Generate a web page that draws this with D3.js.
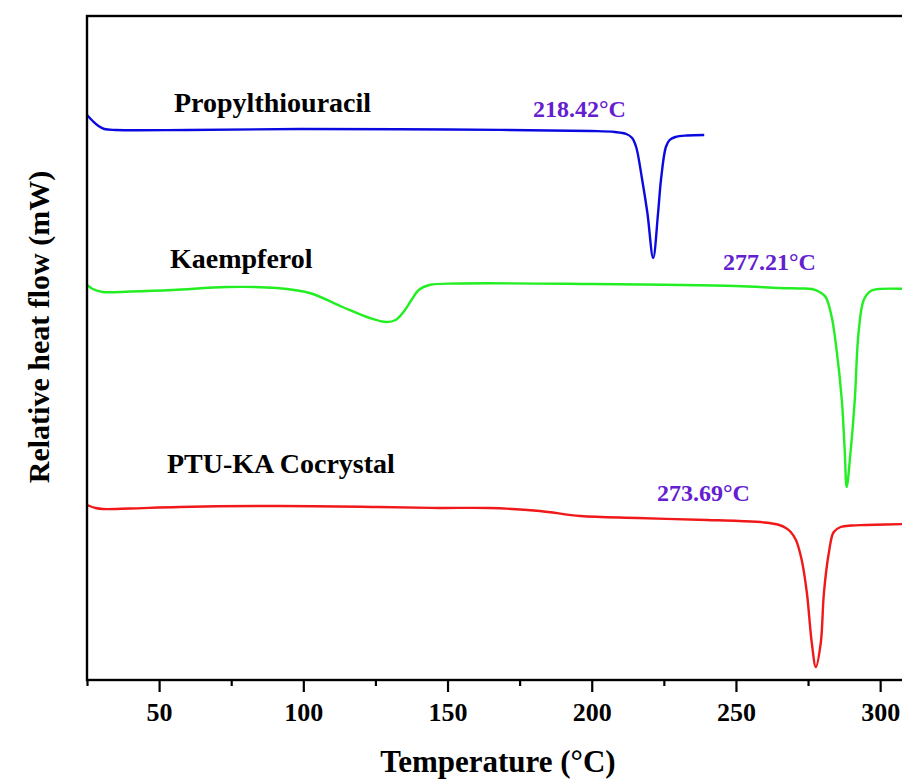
<!DOCTYPE html>
<html>
<head>
<meta charset="utf-8">
<script src="https://cdn.jsdelivr.net/npm/d3@7"></script>
<style>
  html, body { margin: 0; padding: 0; background: #fff; }
  svg { display: block; }
  text { font-family: "Liberation Serif", "Times New Roman", serif; font-weight: bold; }
</style>
</head>
<body>
<svg id="chart" width="902" height="781"></svg>
<script>
// ---- Data (temperature °C, relative heat flow in arbitrary units) ----
const ptuT = [25,27,29,31,35,60,100,150,200,208,212,214,215.4,217.5,219.3,221.3,223,224,225.7,227,229,233,239];
const ptuV = [56.5,55.9,55.4,55.1,55.0,55.0,55.1,55.05,54.9,54.8,54.6,54.2,53.3,50.0,46.7,42.2,46.7,50.0,53.3,54.0,54.3,54.45,54.5];

const kaeT = [25,27,30.5,40,54.8,73.5,90.8,102.2,113.6,123,128.8,132,135,137.5,140,143.7,154,200,250,265,272,276.3,279,281.1,283.2,284.9,286.7,287.7,288.4,289.8,291.2,292.5,294.3,296.7,299.5,310];
const kaeV = [39.5,39.1,38.8,38.85,39.0,39.3,39.2,38.7,37.3,36.2,35.8,36.0,36.9,38.0,39.0,39.5,39.65,39.6,39.4,39.2,39.15,39.1,38.8,38.3,36.3,33.0,28.0,23.0,19.3,23.0,28.0,34.7,38.0,38.9,39.1,39.1];

const cocT = [25,28,30.5,40,57,92,126,147,164.5,182,196,216,240,251,260,265,267.3,269,270.8,272.8,274.6,276.3,277.7,279.4,280.5,282.2,283.9,286.3,290,295,310];
const cocV = [17.5,17.2,17.1,17.15,17.3,17.4,17.3,17.2,17.2,16.9,16.4,16.2,16.0,15.9,15.75,15.5,15.2,14.8,14.0,12.0,8.7,3.7,1.3,3.7,8.7,12.7,14.8,15.3,15.45,15.5,15.6];

const seriesNames = ["Propylthiouracil", "Kaempferol", "PTU-KA Cocrystal"];
const peakLabels = ["218.42°C", "277.21°C", "273.69°C"];
const majorTicks = [50, 100, 150, 200, 250, 300];
const minorTicks = [25, 75, 125, 175, 225, 275];

// ---- Layout ----
const svg = d3.select("#chart");
const mLeft = 87, mRight = 909, mTop = 16, mBottom = 680;

const x = d3.scaleLinear().domain([25, 310]).range([mLeft, mRight]);
const y = d3.scaleLinear().domain([0, 66.4]).range([mBottom, mTop]);

svg.append("defs").append("clipPath").attr("id", "clip")
  .append("rect").attr("x", mLeft).attr("y", mTop).attr("width", mRight - mLeft).attr("height", mBottom - mTop);

const line = d3.line().x(d => x(d[0])).y(d => y(d[1])).curve(d3.curveCatmullRom.alpha(0.5));

const series = [
  { T: ptuT, V: ptuV, color: "#0a0ae0" },
  { T: kaeT, V: kaeV, color: "#22ee22" },
  { T: cocT, V: cocV, color: "#f01818" }
];

const g = svg.append("g").attr("clip-path", "url(#clip)");
series.forEach(s => {
  const pts = s.T.map((t, i) => [t, s.V[i]]);
  g.append("path").datum(pts)
    .attr("d", line)
    .attr("fill", "none")
    .attr("stroke", s.color)
    .attr("stroke-width", 2.4)
    .attr("stroke-linejoin", "round");
});

// Frame
svg.append("rect").attr("x", mLeft).attr("y", mTop).attr("width", mRight - mLeft + 20).attr("height", mBottom - mTop)
  .attr("fill", "none").attr("stroke", "#000").attr("stroke-width", 2.4);

// X axis
const xAxis = d3.axisBottom(x).tickValues(majorTicks).tickSize(12).tickPadding(11).tickFormat(d3.format("d"));
const ax = svg.append("g").attr("transform", `translate(0,${mBottom})`).call(xAxis);
ax.select(".domain").remove();
ax.selectAll(".tick line").attr("stroke", "#000").attr("stroke-width", 2.2);
ax.selectAll(".tick text").attr("fill", "#000").style("font-size", "26px")
  .style("font-family", "'Liberation Serif', serif").style("font-weight", "bold");

const xMinor = d3.axisBottom(x).tickValues(minorTicks).tickSize(6).tickFormat("");
const axm = svg.append("g").attr("transform", `translate(0,${mBottom})`).call(xMinor);
axm.select(".domain").remove();
axm.selectAll(".tick line").attr("stroke", "#000").attr("stroke-width", 2.2);

// Axis titles
svg.append("text").attr("x", 498).attr("y", 772).attr("text-anchor", "middle")
  .style("font-size", "31px").text("Temperature (°C)");
svg.append("text").attr("transform", "translate(49,327) rotate(-90)").attr("text-anchor", "middle")
  .style("font-size", "30px").text("Relative heat flow (mW)");

// Series labels
const nameX = [174, 170, 167], nameY = [112, 268, 473];
seriesNames.forEach((n, i) => {
  svg.append("text").attr("x", nameX[i]).attr("y", nameY[i]).style("font-size", "28px").attr("fill", "#000").text(n);
});

// Peak labels
const peakX = [533, 723, 657], peakY = [117, 270, 501];
peakLabels.forEach((p, i) => {
  svg.append("text").attr("x", peakX[i]).attr("y", peakY[i]).style("font-size", "24px").attr("fill", "#6420d0").text(p);
});
</script>
</body>
</html>
